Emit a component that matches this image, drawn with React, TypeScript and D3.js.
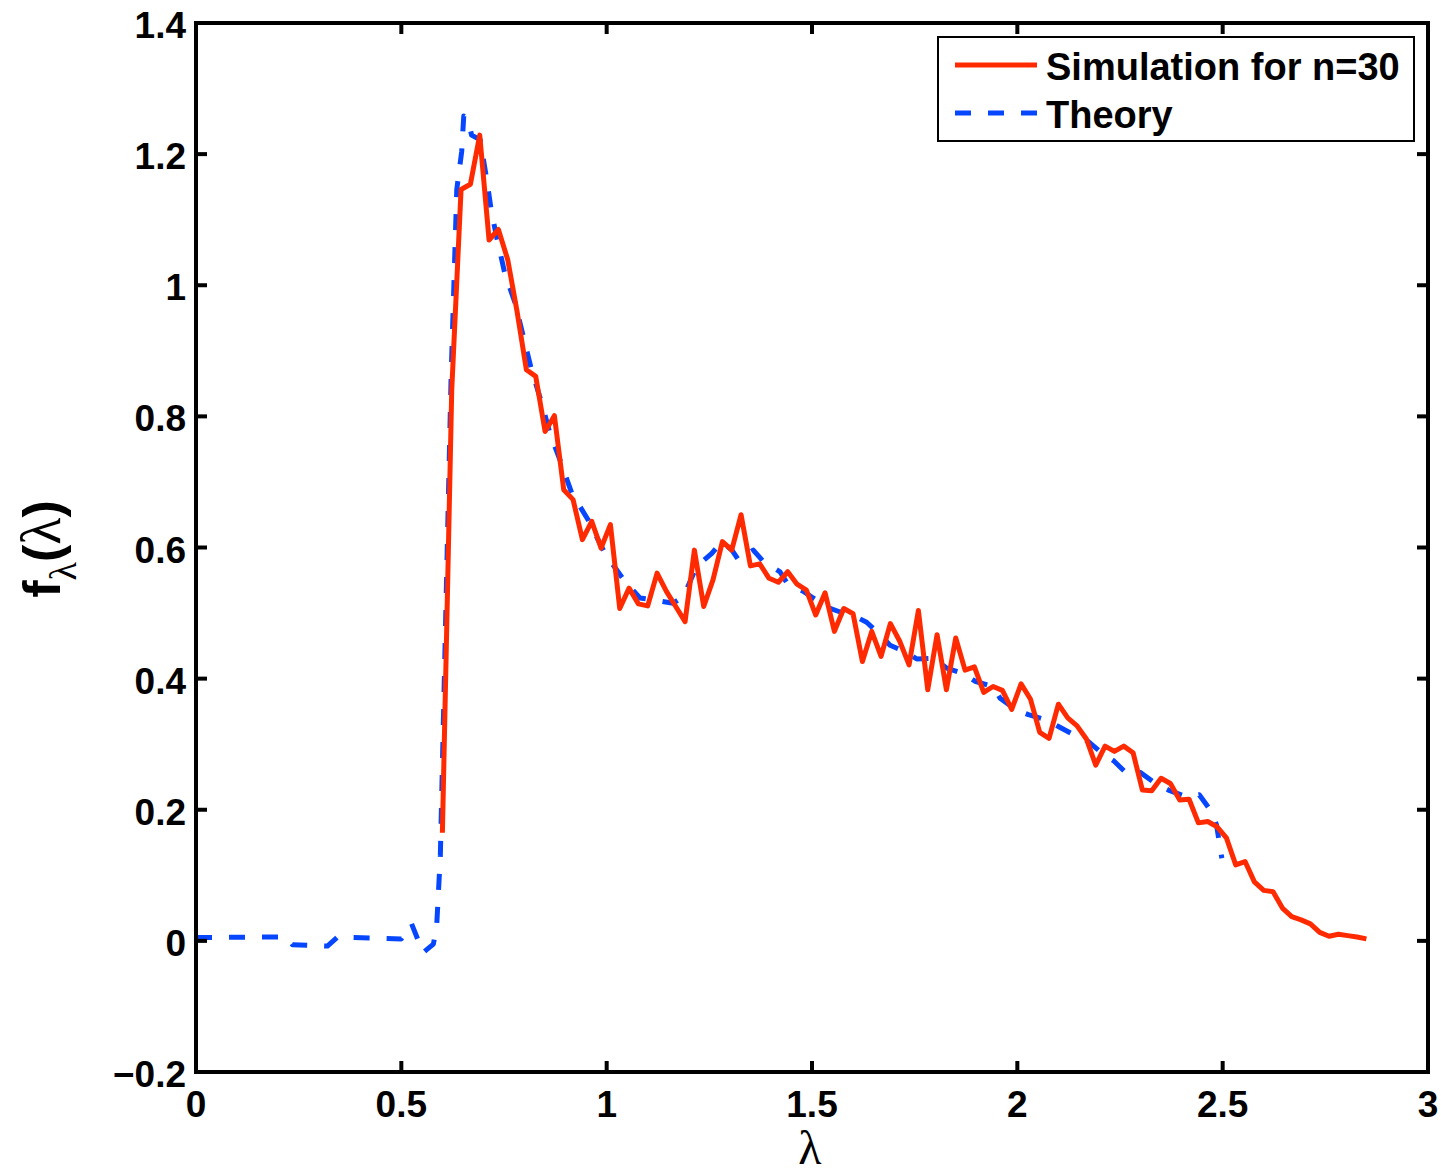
import React from "react";
import * as d3 from "d3";

// Simulation (histogram bins, n=30): 100 bins from 0.6 to 2.85
const simStart = 0.6;
const simEnd = 2.85;
const simValues = [
  0.165, 0.84, 1.146, 1.154, 1.229, 1.069, 1.085, 1.039, 0.96, 0.871, 0.861, 0.777, 0.801,
  0.688, 0.673, 0.612, 0.640, 0.599, 0.635, 0.507, 0.538, 0.514, 0.511,
  0.561, 0.533, 0.510, 0.487, 0.596, 0.510, 0.551, 0.609, 0.596, 0.650,
  0.572, 0.575, 0.553, 0.547, 0.563, 0.544, 0.535, 0.497, 0.531, 0.472,
  0.507, 0.499,
  0.426, 0.472, 0.434, 0.484, 0.457, 0.421, 0.504, 0.383, 0.467, 0.383,
  0.462, 0.413, 0.418, 0.379, 0.388, 0.382, 0.353, 0.392, 0.369, 0.318,
  0.309, 0.361, 0.340, 0.328, 0.308,
  0.268, 0.297, 0.289, 0.297, 0.287, 0.230, 0.229, 0.248, 0.240, 0.215,
  0.216, 0.180, 0.182, 0.174, 0.157, 0.116, 0.121, 0.090, 0.077, 0.075,
  0.050, 0.037, 0.032, 0.026, 0.013, 0.007, 0.010, 0.008, 0.006, 0.003,
];

// Theory curve
const theoryX = [
  0, 0.22, 0.235, 0.32, 0.345, 0.5, 0.525, 0.553, 0.578, 0.586, 0.595, 0.621, 0.635, 0.647,
  0.652, 0.663, 0.671, 0.692, 0.708, 0.72, 0.732, 0.752, 0.777, 0.797, 0.817, 0.842, 0.862,
  0.886, 0.915, 0.955, 0.996, 1.041, 1.081, 1.114, 1.162, 1.187, 1.219, 1.256, 1.28, 1.305,
  1.321, 1.357, 1.381, 1.422, 1.438, 1.479, 1.503, 1.544, 1.567, 1.608, 1.633, 1.666, 1.69,
  1.726, 1.755, 1.799, 1.828, 1.868, 1.897, 1.941, 1.958, 1.998, 2.027, 2.071, 2.1, 2.145,
  2.173, 2.205, 2.234, 2.27, 2.299, 2.339, 2.368, 2.411, 2.443, 2.473, 2.485, 2.498,
];
const theoryY = [
  0.005, 0.006, -0.006, -0.008, 0.006, 0.003, 0.026, -0.018, -0.005, 0.022, 0.13, 0.856, 1.146, 1.204,
  1.258, 1.252, 1.229, 1.222, 1.161, 1.11, 1.074, 1.018, 0.973, 0.922, 0.871, 0.82, 0.774,
  0.734, 0.683, 0.642, 0.591, 0.551, 0.523, 0.52, 0.515, 0.525, 0.571, 0.591, 0.609, 0.596,
  0.581, 0.596, 0.579, 0.563, 0.547, 0.533, 0.523, 0.507, 0.502, 0.494, 0.486, 0.467, 0.451,
  0.441, 0.43, 0.431, 0.416, 0.408, 0.396, 0.388, 0.37, 0.352, 0.345, 0.337, 0.327, 0.312,
  0.304, 0.287, 0.275, 0.253, 0.257, 0.239, 0.23, 0.22, 0.223, 0.197, 0.177, 0.126,
];

const xTicks = [0, 0.5, 1, 1.5, 2, 2.5, 3];
const yTicks = [-0.2, 0, 0.2, 0.4, 0.6, 0.8, 1, 1.2, 1.4];
const legendLabels = ["Simulation for n=30", "Theory"];

const RED = "#ff2a00";
const BLUE = "#0646ff";

export default function App() {
  const W = 1441;
  const H = 1174;
  const left = 196;
  const right = 1428;
  const top = 23;
  const bottom = 1072;

  const x = d3.scaleLinear().domain([0, 3]).range([left, right]);
  const y = d3.scaleLinear().domain([-0.2, 1.4]).range([bottom, top]);

  const step = (simEnd - simStart) / (simValues.length - 1);
  const simPts: [number, number][] = simValues.map((v, i) => [simStart + i * step, v]);
  const thPts: [number, number][] = theoryX.map((v, i) => [v, theoryY[i]]);

  const line = d3
    .line<[number, number]>()
    .x((d) => x(d[0]))
    .y((d) => y(d[1]));

  const fmt = (v: number) => {
    const s = d3.format("~g")(v);
    return s.replace("-", "\u2212");
  };

  const tickLen = 11;
  const font = "'Liberation Sans', Arial, Helvetica, sans-serif";
  const serif = "'Liberation Serif', 'Times New Roman', serif";

  return (
    <svg
      width={W}
      height={H}
      style={{ position: "absolute", left: 0, top: 0, background: "#fff" }}
    >
      <rect x={0} y={0} width={W} height={H} fill="#fff" />
      {/* data */}
      <path
        d={line(thPts) || ""}
        fill="none"
        stroke={BLUE}
        strokeWidth={5}
        strokeDasharray="16 17"
        strokeLinejoin="round"
      />
      <path
        d={line(simPts) || ""}
        fill="none"
        stroke={RED}
        strokeWidth={5}
        strokeLinejoin="round"
      />
      {/* ticks */}
      {xTicks.map((t) => (
        <g key={"xt" + t}>
          <line x1={x(t)} x2={x(t)} y1={bottom} y2={bottom - tickLen} stroke="#000" strokeWidth={4} />
          <line x1={x(t)} x2={x(t)} y1={top} y2={top + tickLen} stroke="#000" strokeWidth={4} />
          <text
            x={x(t)}
            y={1117}
            textAnchor="middle"
            fontFamily={font}
            fontWeight="bold"
            fontSize={37}
          >
            {fmt(t)}
          </text>
        </g>
      ))}
      {yTicks.map((t) => (
        <g key={"yt" + t}>
          <line x1={left} x2={left + tickLen} y1={y(t)} y2={y(t)} stroke="#000" strokeWidth={4} />
          <line x1={right} x2={right - tickLen} y1={y(t)} y2={y(t)} stroke="#000" strokeWidth={4} />
          <text
            x={186}
            y={y(t) + 15}
            textAnchor="end"
            fontFamily={font}
            fontWeight="bold"
            fontSize={37}
          >
            {fmt(t)}
          </text>
        </g>
      ))}
      {/* axes box */}
      <rect
        x={left}
        y={top}
        width={right - left}
        height={bottom - top}
        fill="none"
        stroke="#000"
        strokeWidth={4}
      />
      {/* axis labels */}
      <text x={810} y={1164} textAnchor="middle" fontFamily={serif} fontSize={48}>
        λ
      </text>
      <g transform="translate(60,549) rotate(-90)">
        <text textAnchor="middle" fontFamily={font} fontWeight="bold" fontSize={52}>
          f
          <tspan fontFamily={serif} fontWeight="normal" fontSize={38} dy={16}>
            λ
          </tspan>
          <tspan dy={-16}>(</tspan>
          <tspan fontFamily={serif} fontWeight="normal" fontSize={56}>
            λ
          </tspan>
          <tspan>)</tspan>
        </text>
      </g>
      {/* legend */}
      <rect x={938} y={37} width={476} height={104} fill="#fff" stroke="#000" strokeWidth={2} />
      <line x1={955} x2={1037} y1={65} y2={65} stroke={RED} strokeWidth={5} />
      <line
        x1={955}
        x2={1037}
        y1={113}
        y2={113}
        stroke={BLUE}
        strokeWidth={5}
        strokeDasharray="16 17"
      />
      <text x={1046} y={80} fontFamily={font} fontWeight="bold" fontSize={38}>
        {legendLabels[0]}
      </text>
      <text x={1046} y={128} fontFamily={font} fontWeight="bold" fontSize={38}>
        {legendLabels[1]}
      </text>
    </svg>
  );
}
